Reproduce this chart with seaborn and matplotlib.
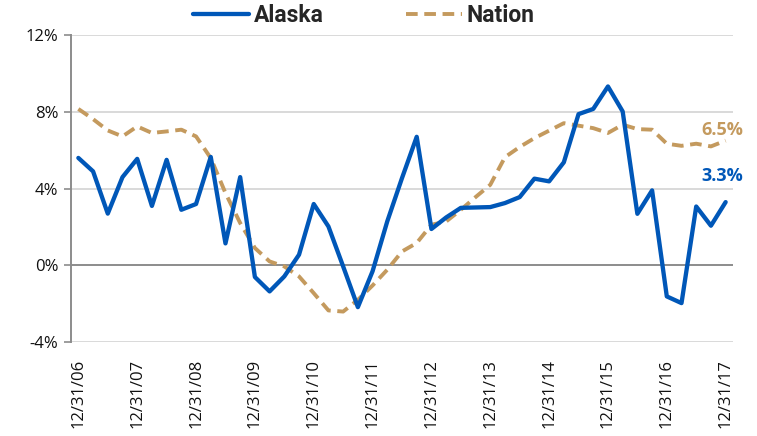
import matplotlib
matplotlib.use("Agg")
import matplotlib.pyplot as plt
import seaborn as sns
import pandas as pd
import numpy as np

quarters = list(range(45))
tick_labels = ["12/31/06", "12/31/07", "12/31/08", "12/31/09", "12/31/10", "12/31/11",
               "12/31/12", "12/31/13", "12/31/14", "12/31/15", "12/31/16", "12/31/17"]
alaska = [5.6, 4.9, 2.7, 4.6, 5.55, 3.1, 5.5, 2.9, 3.2, 5.65, 1.15, 4.6, -0.6,
          -1.35, -0.57, 0.56, 3.2, 2.03, -0.05, -2.17, -0.3, 2.3, 4.55, 6.7, 1.9,
          2.5, 3.0, 3.02, 3.04, 3.25, 3.56, 4.52, 4.38, 5.37, 7.88, 8.15, 9.32,
          8.02, 2.69, 3.91, -1.61, -1.96, 3.07, 2.07, 3.3]
nation = [8.15, 7.62, 7.03, 6.72, 7.24, 6.9, 6.98, 7.07, 6.72, 5.59, 3.77, 2.21, 0.91,
          0.21, -0.05, -0.57, -1.44, -2.34, -2.4, -1.79, -1.04, -0.22, 0.73, 1.17, 2.12,
          2.29, 2.9, 3.56, 4.2, 5.64, 6.17, 6.63, 7.02, 7.41, 7.28, 7.15, 6.9,
          7.33, 7.1, 7.07, 6.34, 6.23, 6.34, 6.2, 6.5]
yticks = [-4, 0, 4, 8, 12]

BLUE = "#0057B8"
TAN = "#C49A5E"

sns.set_theme(style="white")
plt.rcParams['font.family'] = ['Open Sans', 'DejaVu Sans']

df = pd.DataFrame({"q": quarters, "Alaska": alaska, "Nation": nation})

W, H = 757, 436
fig = plt.figure(figsize=(W / 100, H / 100), dpi=100)
ax = fig.add_axes([71 / W, 1 - 342.3 / H, (733 - 71) / W, (342.3 - 35) / H])

for y in yticks:
    if y == 0:
        ax.axhline(y, color="#8C8C8C", lw=1.4, zorder=1)
    else:
        ax.axhline(y, color="#D3D3D3", lw=1.2, zorder=1)

sns.lineplot(data=df, x="q", y="Alaska", ax=ax, color=BLUE, lw=3.1,
             label="Alaska", zorder=3)
sns.lineplot(data=df, x="q", y="Nation", ax=ax, color=TAN, lw=2.8,
             label="Nation", zorder=2, dashes=False)
ax.lines[-1].set_dashes([3.0, 1.7])

ax.set_xlim(-0.5, 44.5)
ax.set_ylim(-4, 12)
ax.set_yticks(yticks)
ax.set_yticklabels([f"{v}%" for v in yticks], fontsize=12, color="#111111")
ax.set_xticks(list(range(0, 45, 4)))
ax.set_xticklabels(tick_labels, rotation=90, fontsize=12, color="#111111")
ax.set_xlabel("")
ax.set_ylabel("")

for s in ["top", "right", "bottom"]:
    ax.spines[s].set_visible(False)
ax.spines["left"].set_color("#8C8C8C")
ax.spines["left"].set_linewidth(1.4)
ax.tick_params(axis="y", left=True, length=5, width=1.2, color="#8C8C8C", pad=4)
ax.tick_params(axis="x", bottom=False, pad=6)

ax.annotate("6.5%", xy=(44.5, 7.07), xytext=(7.5, 0), textcoords="offset points",
            color=TAN, fontsize=13, fontweight="bold", ha="right", va="center",
            annotation_clip=False)
ax.annotate("3.3%", xy=(44.5, 4.67), xytext=(7.5, 0), textcoords="offset points",
            color=BLUE, fontsize=13, fontweight="bold", ha="right", va="center",
            annotation_clip=False)

leg = ax.legend(loc="lower center", bbox_to_anchor=(0.442, 1.017), ncol=2, frameon=False,
                prop={'family': ['Roboto', 'Open Sans'], 'weight': 'bold', 'size': 16.5},
                handlelength=2.45, columnspacing=3.6, handletextpad=0.2,
                borderaxespad=0, borderpad=0.1)

fig.savefig("out.png", dpi=100)
